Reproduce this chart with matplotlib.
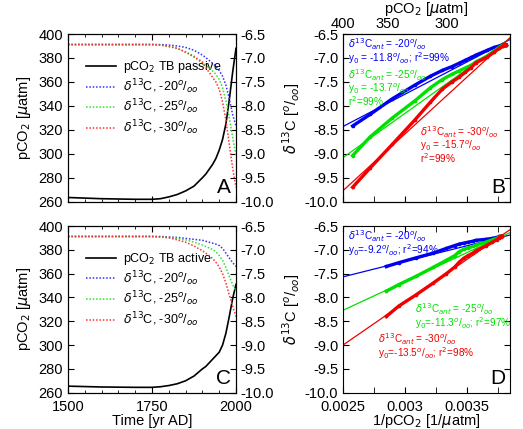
import numpy as np
import matplotlib
matplotlib.use("Agg")
import matplotlib.pyplot as plt
from matplotlib.ticker import MultipleLocator, FixedLocator, FixedFormatter, FormatStrFormatter

plt.rcParams['font.family'] = ['Liberation Sans', 'DejaVu Sans']
plt.rcParams['axes.unicode_minus'] = False
plt.rcParams['mathtext.fontset'] = 'dejavusans'

# time axis (yr AD)
years = [1500, 1600, 1700, 1750, 1775, 1800, 1825, 1850, 1875, 1900, 1910,
         1920, 1930, 1940, 1950, 1960, 1970, 1980, 1990, 2000]

# TB passive run
pco2_passive = [263.5, 262.5, 262, 262, 262.5, 264, 266, 269, 273, 280, 283,
                287, 291, 296, 303, 312, 325, 345, 368, 388]
d13_passive_20 = [-6.72, -6.72, -6.72, -6.72, -6.72, -6.73, -6.75, -6.78, -6.84, -6.94, -6.99,
                  -7.05, -7.11, -7.18, -7.26, -7.38, -7.57, -7.85, -8.18, -8.42]
d13_passive_25 = [-6.72, -6.72, -6.72, -6.72, -6.73, -6.76, -6.80, -6.87, -6.96, -7.08, -7.15,
                  -7.21, -7.27, -7.34, -7.45, -7.62, -7.90, -8.25, -8.65, -9.04]
d13_passive_30 = [-6.72, -6.72, -6.72, -6.72, -6.73, -6.76, -6.80, -6.88, -6.98, -7.10, -7.20,
                  -7.30, -7.40, -7.50, -7.65, -7.92, -8.30, -8.80, -9.30, -9.70]

# TB active run
pco2_active = [265.5, 264.8, 264.5, 264.5, 265, 266, 267.5, 270, 274, 280, 282,
               285, 288, 291, 294, 300, 310, 324, 339, 351]
d13_active_20 = [-6.72, -6.72, -6.72, -6.72, -6.72, -6.73, -6.74, -6.76, -6.78, -6.80, -6.82,
                 -6.84, -6.86, -6.88, -6.91, -6.97, -7.07, -7.17, -7.27, -7.35]
d13_active_25 = [-6.72, -6.72, -6.72, -6.72, -6.73, -6.74, -6.76, -6.79, -6.84, -6.90, -6.93,
                 -6.96, -6.99, -7.04, -7.12, -7.22, -7.37, -7.56, -7.73, -7.87]
d13_active_30 = [-6.72, -6.72, -6.72, -6.72, -6.73, -6.75, -6.79, -6.84, -6.92, -7.02, -7.07,
                 -7.12, -7.18, -7.26, -7.36, -7.50, -7.70, -7.95, -8.18, -8.40]

# linear fits d13C = y0 + slope / pCO2
fit_y0_passive = [-11.8, -13.7, -15.7]
fit_slope_passive = [1348, 1848, 2372]
fit_r2_passive = [99, 99, 99]
fit_y0_active = [-9.2, -11.3, -13.5]
fit_slope_active = [653, 1212, 1800]
fit_r2_active = [94, 97, 98]

d13_ant = [-20, -25, -30]
colors_dot = ['#3030ff', '#30e030', '#ff3030']
colors = ['#0000f0', '#00e000', '#f00000']

W, H = 523, 429
fig = plt.figure(figsize=(W / 100, H / 100), dpi=100)


def box(l, t, r, b):
    return [l / W, 1 - b / H, (r - l) / W, (b - t) / H]


FS = 10.5
perm = r'$^o$/$_{oo}$'


def time_panel(rect, pco2, d13s, tb, letter, xlabels):
    ax = fig.add_axes(rect)
    ax.plot(years, pco2, color='black', lw=1.2, label=r'pCO$_2$ TB ' + tb)
    ax.set_xlim(1500, 2000)
    ax.set_ylim(260, 400)
    ax.yaxis.set_major_locator(MultipleLocator(20))
    ax.xaxis.set_major_locator(FixedLocator([1500, 1750, 2000]))
    ax.xaxis.set_minor_locator(MultipleLocator(50))
    ax.tick_params(which='both', direction='in', top=True, labelsize=FS)
    ax.tick_params(which='major', length=4)
    ax.tick_params(which='minor', length=2.5)
    ax.tick_params(axis='x', pad=5)
    if not xlabels:
        ax.set_xticklabels([])
    else:
        ax.set_xlabel('Time [yr AD]', fontsize=FS, labelpad=0)
    ax.set_ylabel(r'pCO$_2$ [$\mu$atm]', fontsize=FS, labelpad=4)
    ax2 = ax.twinx()
    handles = ax.get_lines()
    for d, c, a in zip(d13s, colors_dot, d13_ant):
        ln, = ax2.plot(years, d, color=c, ls=(0, (1, 1.2)), lw=1.1,
                       label=r'$\delta^{13}$C, %d' % a + perm)
        handles.append(ln)
    ax2.set_ylim(-10, -6.5)
    ax2.yaxis.set_major_locator(MultipleLocator(0.5))
    ax2.yaxis.set_major_formatter(FormatStrFormatter('%.1f'))
    ax2.tick_params(direction='in', length=4, labelsize=FS)
    ax.legend(handles=handles, loc='upper left', bbox_to_anchor=(0.08, 0.88),
              frameon=False, fontsize=9, handlelength=2.4, labelspacing=0.15,
              borderaxespad=0, handletextpad=0.5)
    ax.text(0.97, 0.03, letter, transform=ax.transAxes, ha='right', va='bottom', fontsize=15)
    return ax


def inv_panel(rect, pco2, d13s, y0s, slopes, r2s, letter, bottom, texts):
    ax = fig.add_axes(rect)
    xl = (1 / 400, 1 / 260)
    inv = 1 / np.array(pco2)
    xf = np.linspace(xl[0], xl[1], 50)
    for d, c, y0, s in zip(d13s, colors, y0s, slopes):
        ax.plot(xf, y0 + s * xf, color=c, lw=0.9)
        ax.plot(inv, d, color=c, lw=2.4, marker='o', ms=1.6)
    ax.set_xlim(*xl)
    ax.set_ylim(-10, -6.5)
    ax.yaxis.set_major_locator(MultipleLocator(0.5))
    ax.yaxis.set_major_formatter(FormatStrFormatter('%.1f'))
    ax.xaxis.set_major_locator(FixedLocator([0.0025, 0.003, 0.0035]))
    ax.xaxis.set_major_formatter(FixedFormatter(['0.0025', '0.003', '0.0035']))
    ax.xaxis.set_minor_locator(FixedLocator([0.00275, 0.00325, 0.00375]))
    ax.tick_params(which='both', direction='in', top=True, right=True, labelsize=FS)
    ax.tick_params(which='major', length=4)
    ax.tick_params(which='minor', length=4)
    ax.tick_params(axis='x', pad=5)
    ax.set_ylabel(r'$\delta^{13}$C [' + perm + ']', fontsize=FS, labelpad=2)
    if bottom:
        ax.set_xlabel(r'1/pCO$_2$ [1/$\mu$atm]', fontsize=FS, labelpad=-1)
    else:
        ax.set_xticklabels([])
        axt = ax.twiny()
        axt.set_xlim(*xl)
        axt.set_xticks([1 / 400, 1 / 350, 1 / 300])
        axt.set_xticklabels(['400', '350', '300'])
        axt.tick_params(direction='in', length=0, labelsize=FS, pad=2)
        axt.set_xlabel(r'pCO$_2$ [$\mu$atm]', fontsize=FS, labelpad=3)
    for (tx, ty, txt), c in zip(texts, colors):
        ax.text(tx, ty, txt, transform=ax.transAxes, color=c, fontsize=7.2,
                ha='left', va='top', linespacing=0.85)
    ax.text(0.97, 0.03, letter, transform=ax.transAxes, ha='right', va='bottom', fontsize=15)
    return ax


time_panel(box(68, 34, 236, 201.7), pco2_passive,
           [d13_passive_20, d13_passive_25, d13_passive_30], 'passive', 'A', False)
time_panel(box(68, 226, 236, 392.7), pco2_active,
           [d13_active_20, d13_active_25, d13_active_30], 'active', 'C', True)

head = [r'$\delta^{13}$C$_{ant}$ = %d' % a + perm for a in d13_ant]
texts_b = [
    (0.03, 0.985, head[0] + '\n' + r'y$_0$ = %.1f' % fit_y0_passive[0] + perm + r'; r$^2$=%d%%' % fit_r2_passive[0]),
    (0.03, 0.80, head[1] + '\n' + r'y$_0$ = %.1f' % fit_y0_passive[1] + perm + '\n' + r'r$^2$=%d%%' % fit_r2_passive[1]),
    (0.46, 0.46, head[2] + '\n' + r'y$_0$ = %.1f' % fit_y0_passive[2] + perm + '\n' + r'r$^2$=%d%%' % fit_r2_passive[2]),
]
texts_d = [
    (0.03, 0.985, head[0] + '\n' + r'y$_0$=%.1f' % fit_y0_active[0] + perm + r'; r$^2$=%d%%' % fit_r2_active[0]),
    (0.43, 0.55, head[1] + '\n' + r'y$_0$=%.1f' % fit_y0_active[1] + perm + r'; r$^2$=%d%%' % fit_r2_active[1]),
    (0.21, 0.37, head[2] + '\n' + r'y$_0$=%.1f' % fit_y0_active[2] + perm + r'; r$^2$=%d%%' % fit_r2_active[2]),
]

inv_panel(box(343, 34, 510, 201.7), pco2_passive,
          [d13_passive_20, d13_passive_25, d13_passive_30],
          fit_y0_passive, fit_slope_passive, fit_r2_passive, 'B', False, texts_b)
inv_panel(box(343, 226, 510, 392.7), pco2_active,
          [d13_active_20, d13_active_25, d13_active_30],
          fit_y0_active, fit_slope_active, fit_r2_active, 'D', True, texts_d)

fig.savefig('out.png', dpi=100)
